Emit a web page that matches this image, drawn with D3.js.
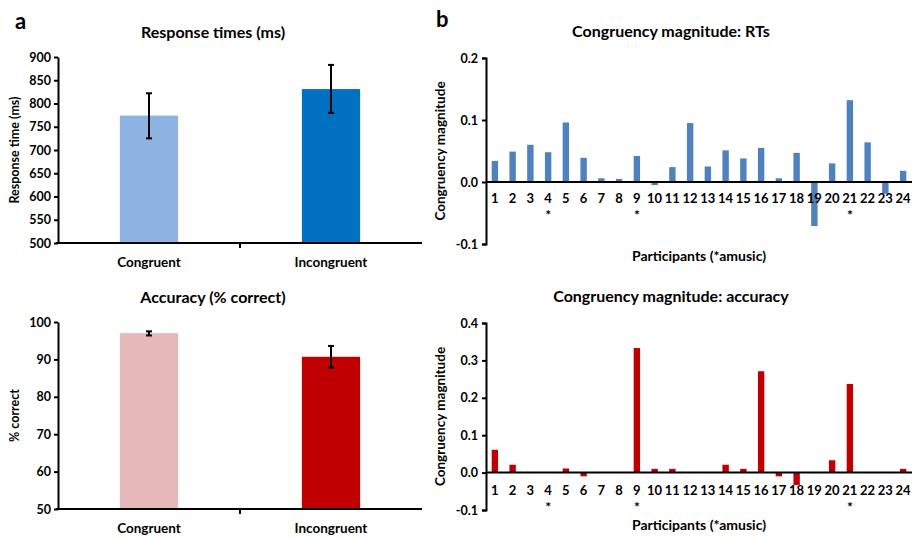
<!DOCTYPE html>
<html>
<head>
<meta charset="utf-8">
<script src="https://cdn.jsdelivr.net/npm/d3@7"></script>
<style>
  body { margin: 0; background: #fff; }
  svg text { font-family: Lato, "Open Sans", sans-serif; font-weight: bold; fill: #000; }
  .axis path, .axis line { stroke: #000; stroke-width: 2; }
</style>
</head>
<body>
<div class="chart"></div>
<script>
// data ------------------------------------------------------------
const conditions = ["Congruent", "Incongruent"];
const rtMeans = [774, 831];
const rtErrLow = [725, 780];
const rtErrHigh = [822, 883];
const accMeans = [97.0, 90.7];
const accErrLow = [96.4, 87.8];
const accErrHigh = [97.5, 93.6];

const participants = d3.range(1, 25).map(String);
const amusic = ["4", "9", "21"];
const rtMagnitude = [0.034, 0.049, 0.060, 0.048, 0.096, 0.039, 0.006, 0.005, 0.042, -0.005,
  0.024, 0.095, 0.025, 0.051, 0.038, 0.055, 0.006, 0.047, -0.071, 0.030,
  0.132, 0.064, -0.019, 0.018];
const accMagnitude = [0.061, 0.021, 0, 0, 0.011, -0.010, 0, 0, 0.333, 0.010,
  0.010, 0, 0, 0.021, 0.010, 0.271, -0.010, -0.033, 0, 0.033,
  0.237, 0, 0, 0.010];

const rtTicks = d3.range(500, 901, 50);
const accTicks = d3.range(50, 101, 10);
const rtMagTicks = [-0.1, 0, 0.1, 0.2];
const accMagTicks = [-0.1, 0, 0.1, 0.2, 0.3, 0.4];

const svg = d3.select(".chart").append("svg")
  .attr("width", 912)
  .attr("height", 539);

// panel letters
svg.append("text").attr("x", 15).attr("y", 29).style("font-size", "22px").text("a");
svg.append("text").attr("x", 436).attr("y", 27).style("font-size", "22px").text("b");

// two-bar condition chart
function conditionChart(opts) {
  const g = svg.append("g");
  const x = d3.scaleBand().domain(conditions).range([opts.x0, opts.x1]).paddingInner(0).paddingOuter(0);
  const y = d3.scaleLinear().domain(opts.domain).range([opts.y1, opts.y0]);
  const bw = x.bandwidth() * 0.32;

  g.selectAll(".bar").data(conditions).enter().append("rect")
    .attr("class", "bar")
    .attr("x", d => x(d) + x.bandwidth() / 2 - bw / 2)
    .attr("y", (d, i) => y(opts.means[i]))
    .attr("width", bw)
    .attr("height", (d, i) => y(opts.domain[0]) - y(opts.means[i]))
    .attr("fill", (d, i) => opts.colors[i]);

  // error bars
  const eb = g.selectAll(".err").data(conditions).enter().append("g")
    .attr("class", "err")
    .attr("stroke", "#000").attr("stroke-width", 2);
  eb.append("line")
    .attr("x1", d => x(d) + x.bandwidth() / 2).attr("x2", d => x(d) + x.bandwidth() / 2)
    .attr("y1", (d, i) => y(opts.low[i])).attr("y2", (d, i) => y(opts.high[i]));
  eb.append("line")
    .attr("x1", d => x(d) + x.bandwidth() / 2 - 3).attr("x2", d => x(d) + x.bandwidth() / 2 + 3)
    .attr("y1", (d, i) => y(opts.low[i])).attr("y2", (d, i) => y(opts.low[i]));
  eb.append("line")
    .attr("x1", d => x(d) + x.bandwidth() / 2 - 3).attr("x2", d => x(d) + x.bandwidth() / 2 + 3)
    .attr("y1", (d, i) => y(opts.high[i])).attr("y2", (d, i) => y(opts.high[i]));

  // y axis
  g.append("g").attr("class", "axis")
    .attr("transform", `translate(${opts.x0},0)`)
    .call(d3.axisLeft(y).tickValues(opts.ticks).tickSize(4).tickSizeOuter(0).tickPadding(3))
    .selectAll("text").style("font-size", "12.5px");

  // x axis line with boundary tick between categories
  const xa = g.append("g").attr("class", "axis");
  xa.append("line").attr("x1", opts.x0 - 2).attr("x2", opts.x1)
    .attr("y1", opts.y1).attr("y2", opts.y1);
  xa.append("line").attr("x1", x(conditions[1])).attr("x2", x(conditions[1]))
    .attr("y1", opts.y1).attr("y2", opts.y1 + 5);
  g.selectAll(".xlab").data(conditions).enter().append("text")
    .attr("class", "xlab")
    .attr("x", d => x(d) + x.bandwidth() / 2)
    .attr("y", opts.y1 + 24)
    .attr("text-anchor", "middle")
    .style("font-size", "13.5px")
    .text(d => d);

  g.append("text")
    .attr("x", 213)
    .attr("y", opts.y0 - 19)
    .attr("text-anchor", "middle")
    .style("font-size", "16px")
    .text(opts.title);

  g.append("text")
    .attr("transform", `translate(${opts.x0 - 39},${(opts.y0 + opts.y1) / 2}) rotate(-90)`)
    .attr("text-anchor", "middle")
    .style("font-size", "12.5px")
    .text(opts.ytitle);
}

// participant magnitude chart
function participantChart(opts) {
  const g = svg.append("g");
  const x = d3.scaleBand().domain(participants).range([opts.x0, opts.x1]).paddingInner(0).paddingOuter(0);
  const y = d3.scaleLinear().domain(opts.domain).range([opts.y1, opts.y0]);
  const bw = x.bandwidth() * 0.36;
  const zero = y(0);

  g.selectAll(".bar").data(participants).enter().append("rect")
    .attr("class", "bar")
    .attr("x", d => x(d) + x.bandwidth() / 2 - bw / 2)
    .attr("y", (d, i) => Math.min(y(opts.values[i]), zero))
    .attr("width", bw)
    .attr("height", (d, i) => Math.abs(y(opts.values[i]) - zero))
    .attr("fill", opts.color);

  g.append("g").attr("class", "axis")
    .attr("transform", `translate(${opts.x0},0)`)
    .call(d3.axisLeft(y).tickValues(opts.ticks).tickSize(4).tickSizeOuter(4).tickPadding(4)
      .tickFormat(d => d.toFixed(1)))
    .selectAll("text").style("font-size", "12.5px");

  g.append("line")
    .attr("x1", opts.x0).attr("x2", opts.x1)
    .attr("y1", zero).attr("y2", zero)
    .attr("stroke", "#000").attr("stroke-width", 2);

  g.selectAll(".xlab").data(participants).enter().append("text")
    .attr("class", "xlab")
    .attr("x", d => x(d) + x.bandwidth() / 2)
    .attr("y", zero + opts.labelGap)
    .attr("text-anchor", "middle")
    .style("font-size", "13px")
    .text(d => d);

  g.selectAll(".star").data(amusic).enter().append("text")
    .attr("class", "star")
    .attr("x", d => x(d) + x.bandwidth() / 2)
    .attr("y", zero + opts.labelGap + 17)
    .attr("text-anchor", "middle")
    .style("font-size", "14px")
    .text("*");

  g.append("text")
    .attr("x", 671)
    .attr("y", opts.y0 - 21)
    .attr("text-anchor", "middle")
    .style("font-size", "16px")
    .text(opts.title);

  g.append("text")
    .attr("x", 699)
    .attr("y", opts.xtitleY)
    .attr("text-anchor", "middle")
    .style("font-size", "14px")
    .text("Participants (*amusic)");

  g.append("text")
    .attr("transform", `translate(${opts.x0 - 41},${(opts.y0 + opts.y1) / 2}) rotate(-90)`)
    .attr("text-anchor", "middle")
    .style("font-size", "13.5px")
    .text("Congruency magnitude");
}

conditionChart({
  x0: 58, x1: 422, y0: 57, y1: 243,
  domain: [500, 900], ticks: rtTicks,
  means: rtMeans, low: rtErrLow, high: rtErrHigh,
  colors: ["#8DB3E2", "#0070C0"],
  title: "Response times (ms)", ytitle: "Response time (ms)"
});

conditionChart({
  x0: 58, x1: 422, y0: 322, y1: 509,
  domain: [50, 100], ticks: accTicks,
  means: accMeans, low: accErrLow, high: accErrHigh,
  colors: ["#E6B9B8", "#C00000"],
  title: "Accuracy (% correct)", ytitle: "% correct"
});

participantChart({
  x0: 486, x1: 912, y0: 58, y1: 244,
  domain: [-0.1, 0.2], ticks: rtMagTicks,
  values: rtMagnitude, color: "#4F81BD",
  labelGap: 21, xtitleY: 261,
  title: "Congruency magnitude: RTs"
});

participantChart({
  x0: 486, x1: 912, y0: 323, y1: 510,
  domain: [-0.1, 0.4], ticks: accMagTicks,
  values: accMagnitude, color: "#C00000",
  labelGap: 22, xtitleY: 530,
  title: "Congruency magnitude: accuracy"
});
</script>
</body>
</html>
